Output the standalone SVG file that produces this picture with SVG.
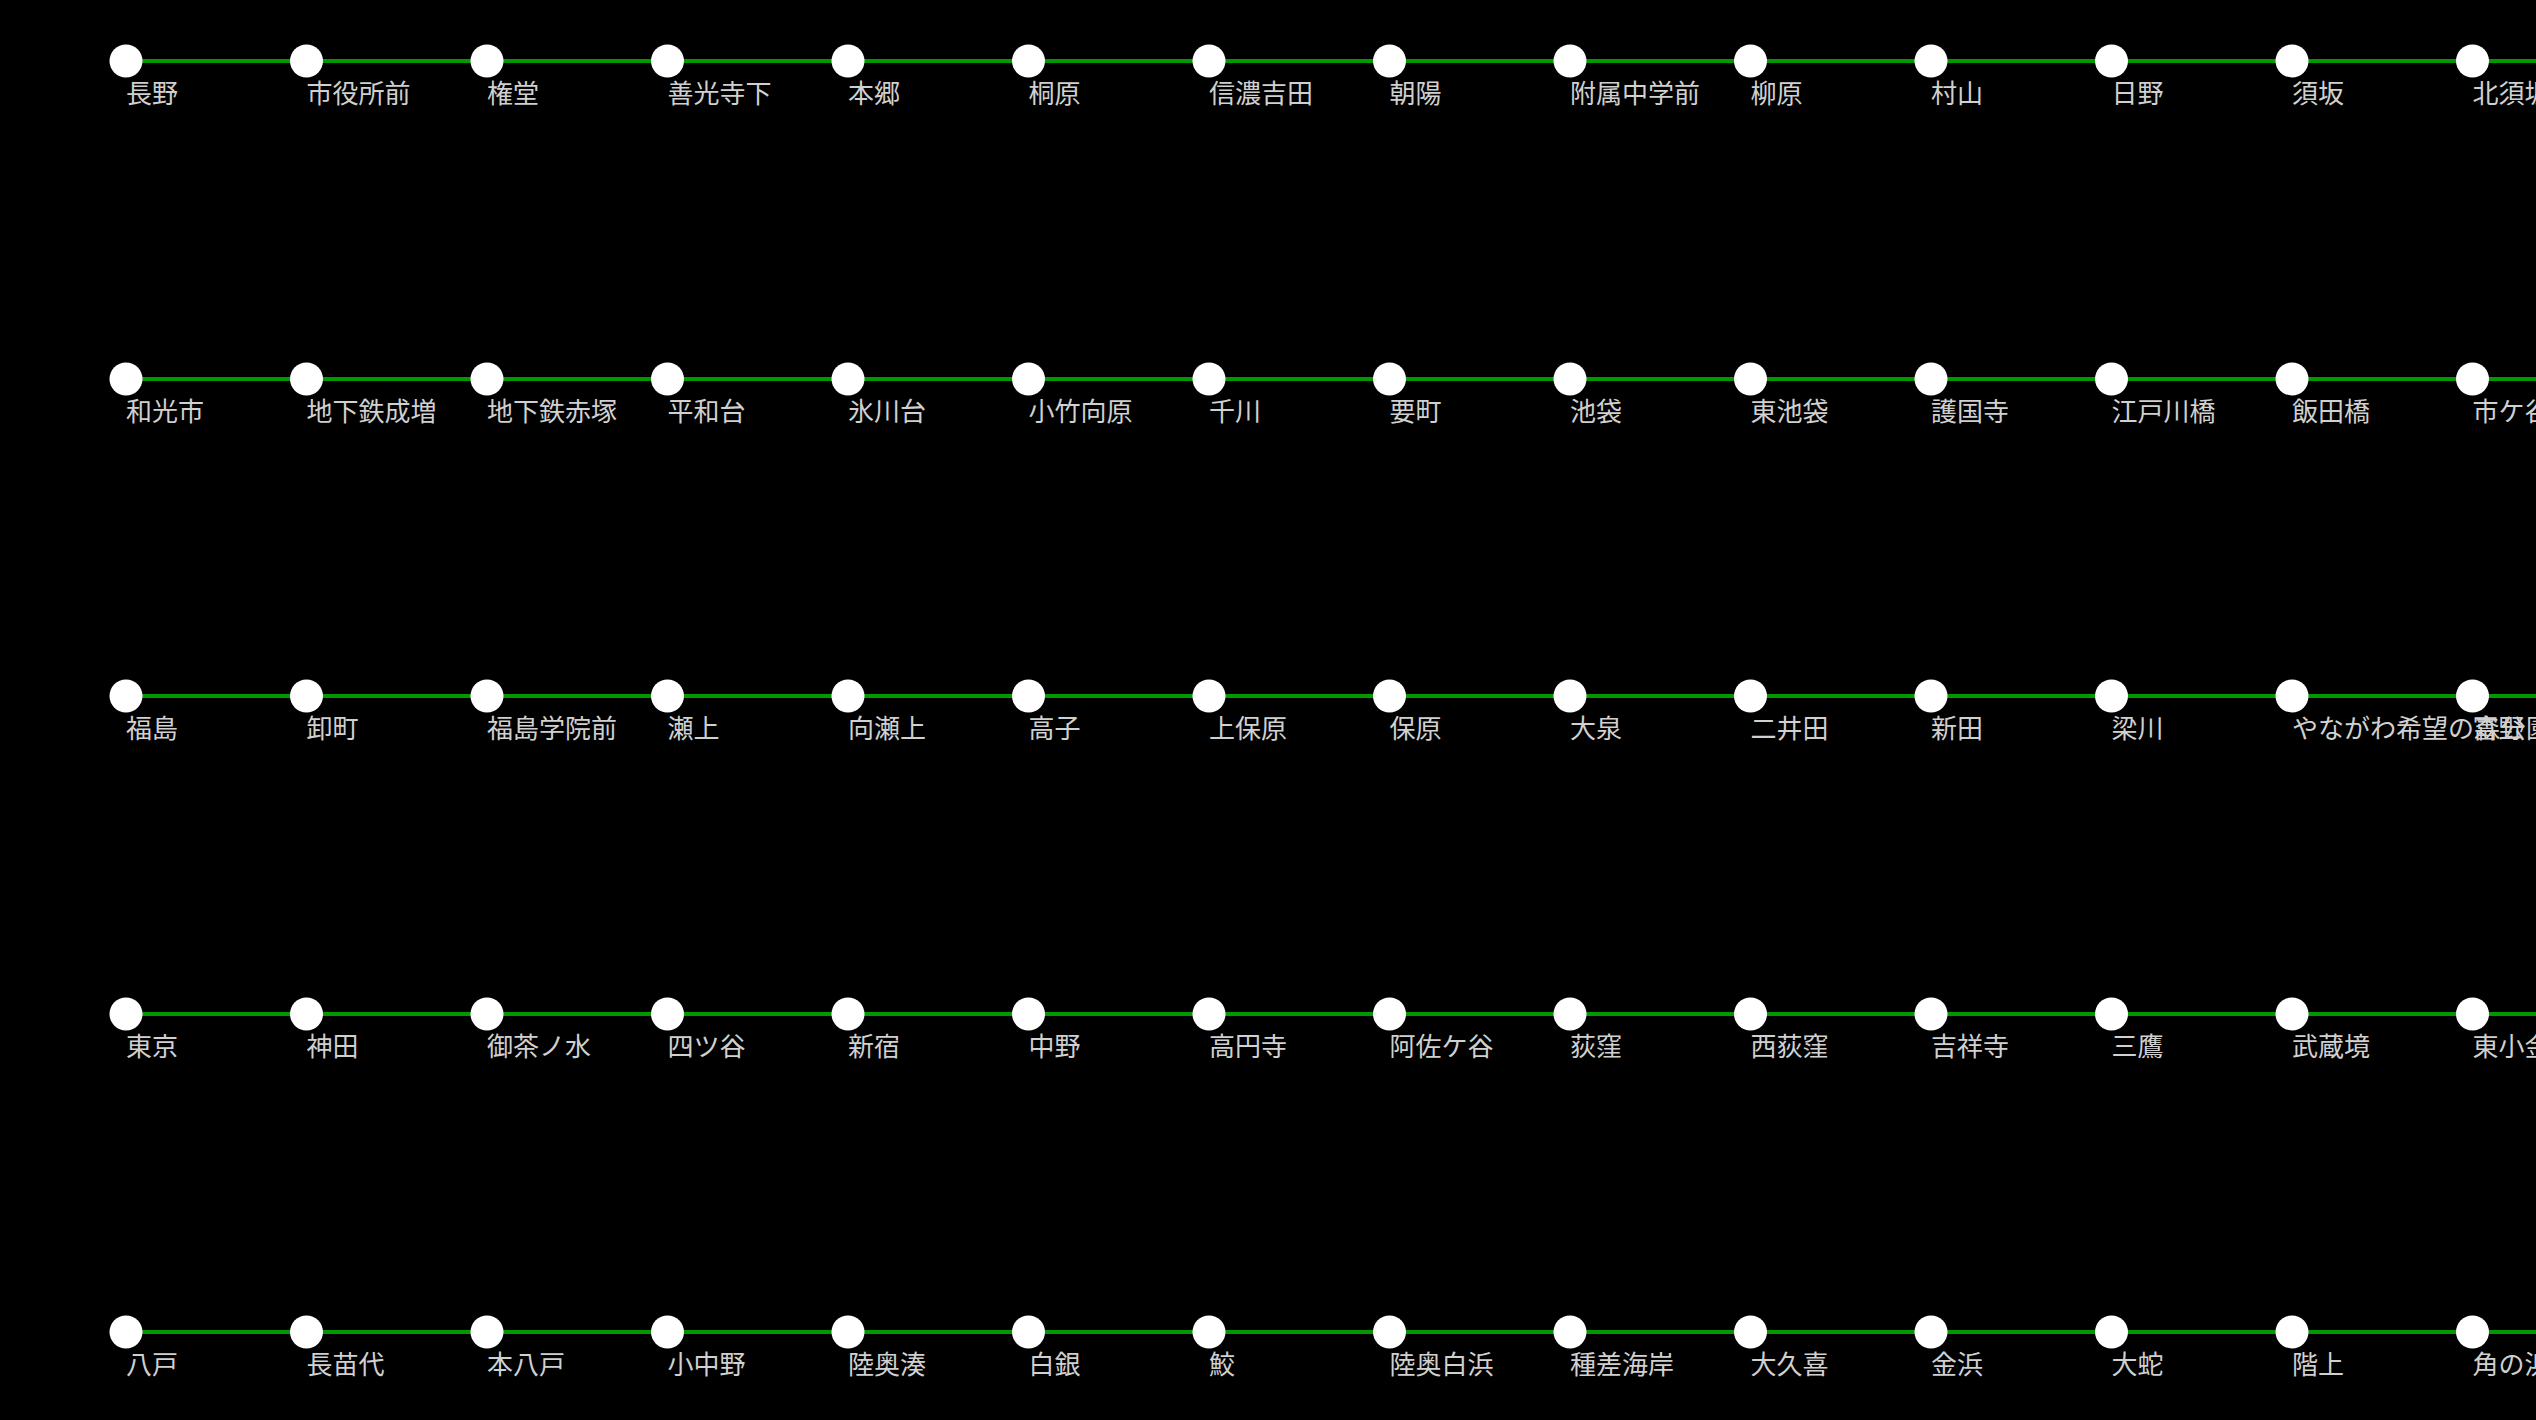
<svg xmlns="http://www.w3.org/2000/svg" width="2536" height="1420" viewBox="0 0 2536 1420">
<style>
.ln{stroke:#009900;stroke-width:4;fill:none}
.st{fill:#ffffff}
.lb{font-family:"Noto Sans CJK JP","Noto Sans CJK SC",sans-serif;font-size:26px;fill:#d0d0d0}
</style>
<rect x="0" y="0" width="2536" height="1420" fill="#000000"/>
<g id="connectors">
<line class="ln" x1="126" y1="61" x2="2536" y2="61"/>
<line class="ln" x1="126" y1="379" x2="2536" y2="379"/>
<line class="ln" x1="126" y1="696" x2="2536" y2="696"/>
<line class="ln" x1="126" y1="1014" x2="2536" y2="1014"/>
<line class="ln" x1="126" y1="1332" x2="2536" y2="1332"/>
</g>
<g id="row1" transform="translate(0,61)">
<g id="n1-1"><circle class="st" cx="126" cy="0" r="16.5"/><text class="lb" x="126" y="42">長野</text></g>
<g id="n1-2"><circle class="st" cx="306.5" cy="0" r="16.5"/><text class="lb" x="306.5" y="42">市役所前</text></g>
<g id="n1-3"><circle class="st" cx="487" cy="0" r="16.5"/><text class="lb" x="487" y="42">権堂</text></g>
<g id="n1-4"><circle class="st" cx="667.5" cy="0" r="16.5"/><text class="lb" x="667.5" y="42">善光寺下</text></g>
<g id="n1-5"><circle class="st" cx="848" cy="0" r="16.5"/><text class="lb" x="848" y="42">本郷</text></g>
<g id="n1-6"><circle class="st" cx="1028.5" cy="0" r="16.5"/><text class="lb" x="1028.5" y="42">桐原</text></g>
<g id="n1-7"><circle class="st" cx="1209" cy="0" r="16.5"/><text class="lb" x="1209" y="42">信濃吉田</text></g>
<g id="n1-8"><circle class="st" cx="1389.5" cy="0" r="16.5"/><text class="lb" x="1389.5" y="42">朝陽</text></g>
<g id="n1-9"><circle class="st" cx="1570" cy="0" r="16.5"/><text class="lb" x="1570" y="42">附属中学前</text></g>
<g id="n1-10"><circle class="st" cx="1750.5" cy="0" r="16.5"/><text class="lb" x="1750.5" y="42">柳原</text></g>
<g id="n1-11"><circle class="st" cx="1931" cy="0" r="16.5"/><text class="lb" x="1931" y="42">村山</text></g>
<g id="n1-12"><circle class="st" cx="2111.5" cy="0" r="16.5"/><text class="lb" x="2111.5" y="42">日野</text></g>
<g id="n1-13"><circle class="st" cx="2292" cy="0" r="16.5"/><text class="lb" x="2292" y="42">須坂</text></g>
<g id="n1-14"><circle class="st" cx="2472.5" cy="0" r="16.5"/><text class="lb" x="2472.5" y="42">北須坂</text></g>
</g>
<g id="row2" transform="translate(0,379)">
<g id="n2-1"><circle class="st" cx="126" cy="0" r="16.5"/><text class="lb" x="126" y="42">和光市</text></g>
<g id="n2-2"><circle class="st" cx="306.5" cy="0" r="16.5"/><text class="lb" x="306.5" y="42">地下鉄成増</text></g>
<g id="n2-3"><circle class="st" cx="487" cy="0" r="16.5"/><text class="lb" x="487" y="42">地下鉄赤塚</text></g>
<g id="n2-4"><circle class="st" cx="667.5" cy="0" r="16.5"/><text class="lb" x="667.5" y="42">平和台</text></g>
<g id="n2-5"><circle class="st" cx="848" cy="0" r="16.5"/><text class="lb" x="848" y="42">氷川台</text></g>
<g id="n2-6"><circle class="st" cx="1028.5" cy="0" r="16.5"/><text class="lb" x="1028.5" y="42">小竹向原</text></g>
<g id="n2-7"><circle class="st" cx="1209" cy="0" r="16.5"/><text class="lb" x="1209" y="42">千川</text></g>
<g id="n2-8"><circle class="st" cx="1389.5" cy="0" r="16.5"/><text class="lb" x="1389.5" y="42">要町</text></g>
<g id="n2-9"><circle class="st" cx="1570" cy="0" r="16.5"/><text class="lb" x="1570" y="42">池袋</text></g>
<g id="n2-10"><circle class="st" cx="1750.5" cy="0" r="16.5"/><text class="lb" x="1750.5" y="42">東池袋</text></g>
<g id="n2-11"><circle class="st" cx="1931" cy="0" r="16.5"/><text class="lb" x="1931" y="42">護国寺</text></g>
<g id="n2-12"><circle class="st" cx="2111.5" cy="0" r="16.5"/><text class="lb" x="2111.5" y="42">江戸川橋</text></g>
<g id="n2-13"><circle class="st" cx="2292" cy="0" r="16.5"/><text class="lb" x="2292" y="42">飯田橋</text></g>
<g id="n2-14"><circle class="st" cx="2472.5" cy="0" r="16.5"/><text class="lb" x="2472.5" y="42">市ケ谷</text></g>
</g>
<g id="row3" transform="translate(0,696)">
<g id="n3-1"><circle class="st" cx="126" cy="0" r="16.5"/><text class="lb" x="126" y="42">福島</text></g>
<g id="n3-2"><circle class="st" cx="306.5" cy="0" r="16.5"/><text class="lb" x="306.5" y="42">卸町</text></g>
<g id="n3-3"><circle class="st" cx="487" cy="0" r="16.5"/><text class="lb" x="487" y="42">福島学院前</text></g>
<g id="n3-4"><circle class="st" cx="667.5" cy="0" r="16.5"/><text class="lb" x="667.5" y="42">瀬上</text></g>
<g id="n3-5"><circle class="st" cx="848" cy="0" r="16.5"/><text class="lb" x="848" y="42">向瀬上</text></g>
<g id="n3-6"><circle class="st" cx="1028.5" cy="0" r="16.5"/><text class="lb" x="1028.5" y="42">高子</text></g>
<g id="n3-7"><circle class="st" cx="1209" cy="0" r="16.5"/><text class="lb" x="1209" y="42">上保原</text></g>
<g id="n3-8"><circle class="st" cx="1389.5" cy="0" r="16.5"/><text class="lb" x="1389.5" y="42">保原</text></g>
<g id="n3-9"><circle class="st" cx="1570" cy="0" r="16.5"/><text class="lb" x="1570" y="42">大泉</text></g>
<g id="n3-10"><circle class="st" cx="1750.5" cy="0" r="16.5"/><text class="lb" x="1750.5" y="42">二井田</text></g>
<g id="n3-11"><circle class="st" cx="1931" cy="0" r="16.5"/><text class="lb" x="1931" y="42">新田</text></g>
<g id="n3-12"><circle class="st" cx="2111.5" cy="0" r="16.5"/><text class="lb" x="2111.5" y="42">梁川</text></g>
<g id="n3-13"><circle class="st" cx="2292" cy="0" r="16.5"/><text class="lb" x="2292" y="42">やながわ希望の森公園前</text></g>
<g id="n3-14"><circle class="st" cx="2472.5" cy="0" r="16.5"/><text class="lb" x="2472.5" y="42">富野</text></g>
</g>
<g id="row4" transform="translate(0,1014)">
<g id="n4-1"><circle class="st" cx="126" cy="0" r="16.5"/><text class="lb" x="126" y="42">東京</text></g>
<g id="n4-2"><circle class="st" cx="306.5" cy="0" r="16.5"/><text class="lb" x="306.5" y="42">神田</text></g>
<g id="n4-3"><circle class="st" cx="487" cy="0" r="16.5"/><text class="lb" x="487" y="42">御茶ノ水</text></g>
<g id="n4-4"><circle class="st" cx="667.5" cy="0" r="16.5"/><text class="lb" x="667.5" y="42">四ツ谷</text></g>
<g id="n4-5"><circle class="st" cx="848" cy="0" r="16.5"/><text class="lb" x="848" y="42">新宿</text></g>
<g id="n4-6"><circle class="st" cx="1028.5" cy="0" r="16.5"/><text class="lb" x="1028.5" y="42">中野</text></g>
<g id="n4-7"><circle class="st" cx="1209" cy="0" r="16.5"/><text class="lb" x="1209" y="42">高円寺</text></g>
<g id="n4-8"><circle class="st" cx="1389.5" cy="0" r="16.5"/><text class="lb" x="1389.5" y="42">阿佐ケ谷</text></g>
<g id="n4-9"><circle class="st" cx="1570" cy="0" r="16.5"/><text class="lb" x="1570" y="42">荻窪</text></g>
<g id="n4-10"><circle class="st" cx="1750.5" cy="0" r="16.5"/><text class="lb" x="1750.5" y="42">西荻窪</text></g>
<g id="n4-11"><circle class="st" cx="1931" cy="0" r="16.5"/><text class="lb" x="1931" y="42">吉祥寺</text></g>
<g id="n4-12"><circle class="st" cx="2111.5" cy="0" r="16.5"/><text class="lb" x="2111.5" y="42">三鷹</text></g>
<g id="n4-13"><circle class="st" cx="2292" cy="0" r="16.5"/><text class="lb" x="2292" y="42">武蔵境</text></g>
<g id="n4-14"><circle class="st" cx="2472.5" cy="0" r="16.5"/><text class="lb" x="2472.5" y="42">東小金井</text></g>
</g>
<g id="row5" transform="translate(0,1332)">
<g id="n5-1"><circle class="st" cx="126" cy="0" r="16.5"/><text class="lb" x="126" y="42">八戸</text></g>
<g id="n5-2"><circle class="st" cx="306.5" cy="0" r="16.5"/><text class="lb" x="306.5" y="42">長苗代</text></g>
<g id="n5-3"><circle class="st" cx="487" cy="0" r="16.5"/><text class="lb" x="487" y="42">本八戸</text></g>
<g id="n5-4"><circle class="st" cx="667.5" cy="0" r="16.5"/><text class="lb" x="667.5" y="42">小中野</text></g>
<g id="n5-5"><circle class="st" cx="848" cy="0" r="16.5"/><text class="lb" x="848" y="42">陸奥湊</text></g>
<g id="n5-6"><circle class="st" cx="1028.5" cy="0" r="16.5"/><text class="lb" x="1028.5" y="42">白銀</text></g>
<g id="n5-7"><circle class="st" cx="1209" cy="0" r="16.5"/><text class="lb" x="1209" y="42">鮫</text></g>
<g id="n5-8"><circle class="st" cx="1389.5" cy="0" r="16.5"/><text class="lb" x="1389.5" y="42">陸奥白浜</text></g>
<g id="n5-9"><circle class="st" cx="1570" cy="0" r="16.5"/><text class="lb" x="1570" y="42">種差海岸</text></g>
<g id="n5-10"><circle class="st" cx="1750.5" cy="0" r="16.5"/><text class="lb" x="1750.5" y="42">大久喜</text></g>
<g id="n5-11"><circle class="st" cx="1931" cy="0" r="16.5"/><text class="lb" x="1931" y="42">金浜</text></g>
<g id="n5-12"><circle class="st" cx="2111.5" cy="0" r="16.5"/><text class="lb" x="2111.5" y="42">大蛇</text></g>
<g id="n5-13"><circle class="st" cx="2292" cy="0" r="16.5"/><text class="lb" x="2292" y="42">階上</text></g>
<g id="n5-14"><circle class="st" cx="2472.5" cy="0" r="16.5"/><text class="lb" x="2472.5" y="42">角の浜</text></g>
</g>
</svg>
